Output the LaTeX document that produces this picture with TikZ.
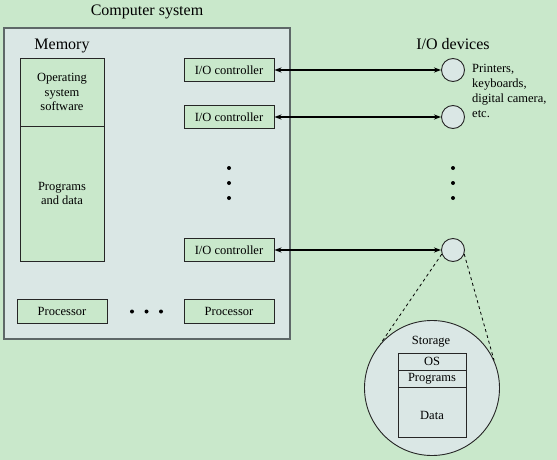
\documentclass[tikz,border=0pt]{standalone}
\usepackage{fontspec}
\setmainfont{Liberation Serif}
\usepackage{tikz}
\usetikzlibrary{positioning, arrows.meta}

\definecolor{bggreen}{HTML}{C9E8CB}
\definecolor{paleblue}{HTML}{DAE7E5}
\definecolor{edgegrey}{HTML}{5E6868}

\tikzset{
  title/.style={font=\fontsize{16}{18}\selectfont, inner sep=0pt},
  label/.style={font=\fontsize{12.5}{14.5}\selectfont, inner sep=0pt},
  unit/.style={draw=black!85, fill=bggreen, line width=0.9pt, font=\fontsize{12.5}{14.5}\selectfont,
    minimum width=90pt, minimum height=23.5pt, inner sep=0pt},
  device/.style={circle, draw=black!85, fill=paleblue, line width=0.9pt, minimum size=23pt, inner sep=0pt},
  dot/.style={circle, fill=black, minimum size=4pt, inner sep=0pt},
  layer/.style={draw=black!85, fill=paleblue, line width=0.9pt, font=\fontsize{12.5}{14.5}\selectfont,
    minimum width=68pt, inner sep=0pt}
}

\begin{document}
\begin{tikzpicture}[x=1pt, y=-1pt, node distance=15pt, on grid]
  \fill[bggreen] (0,0) rectangle (557,460);
  \useasboundingbox (0,0) rectangle (557,460);

  \node[title] (sys) at (147,12) {Computer system};
  \node[draw=edgegrey, fill=paleblue, line width=1.8pt, minimum width=286pt, minimum height=311pt] (box) at (147,183.5) {};

  \node[title] (mem) at (62,46) {Memory};
  \node[unit, minimum width=84pt, minimum height=68pt, align=center] (os) at (62,92) {Operating\\system\\software};
  \node[unit, minimum width=84pt, minimum height=135pt, align=center] (prog) [below=101.5pt of os] {Programs\\and data};

  \node[unit] (c1) at (229,70) {I/O controller};
  \node[unit] (c2) [below=47pt of c1] {I/O controller};
  \node[unit] (c3) [below=133pt of c2] {I/O controller};
  \node[dot] (v1) at (229,168) {};
  \node[dot] (v2) [below=of v1] {};
  \node[dot] (v3) [below=of v2] {};

  \node[unit] (p1) at (62,311.5) {Processor};
  \node[unit] (p2) at (229,311.5) {Processor};
  \node[dot] (h2) at (146.5,311.5) {};
  \node[dot] (h1) [left=14.5pt of h2] {};
  \node[dot] (h3) [right=14.5pt of h2] {};

  \node[title] (io) at (453,44) {I/O devices};
  \node[device] (d1) [right=224pt of c1] {};
  \node[device] (d2) [right=224pt of c2] {};
  \node[device] (d3) [right=224pt of c3] {};
  \node[dot] (w1) at (453,168) {};
  \node[dot] (w2) [below=of w1] {};
  \node[dot] (w3) [below=of w2] {};
  \node[label, anchor=north west, align=left, font=\fontsize{12.5}{15}\selectfont] (kinds) at (472,64)
    {Printers,\\keyboards,\\digital camera,\\etc.};

  \path[{Stealth[length=7pt, width=5pt]}-{Stealth[length=7pt, width=5pt]}, line width=1.2pt]
    (c1) edge (d1)
    (c2) edge (d2)
    (c3) edge (d3);

  \node[circle, draw=black!85, fill=paleblue, line width=0.9pt, minimum size=135pt, inner sep=0pt] (disk) at (432,388) {};
  \draw[dashed, line width=0.8pt] (d3.200) -- (disk.139);
  \draw[dashed, line width=0.8pt] (d3.-20) -- (disk.24);

  \node[label] (stor) at (431,342) {Storage};
  \node[layer, minimum height=17pt] (osl) at (432,361.5) {OS};
  \node[layer, minimum height=17pt] (prl) [below=17pt of osl] {Programs};
  \node[layer, minimum height=50pt, text height=15pt] (dal) [below=33.5pt of prl] {Data};
\end{tikzpicture}
\end{document}
